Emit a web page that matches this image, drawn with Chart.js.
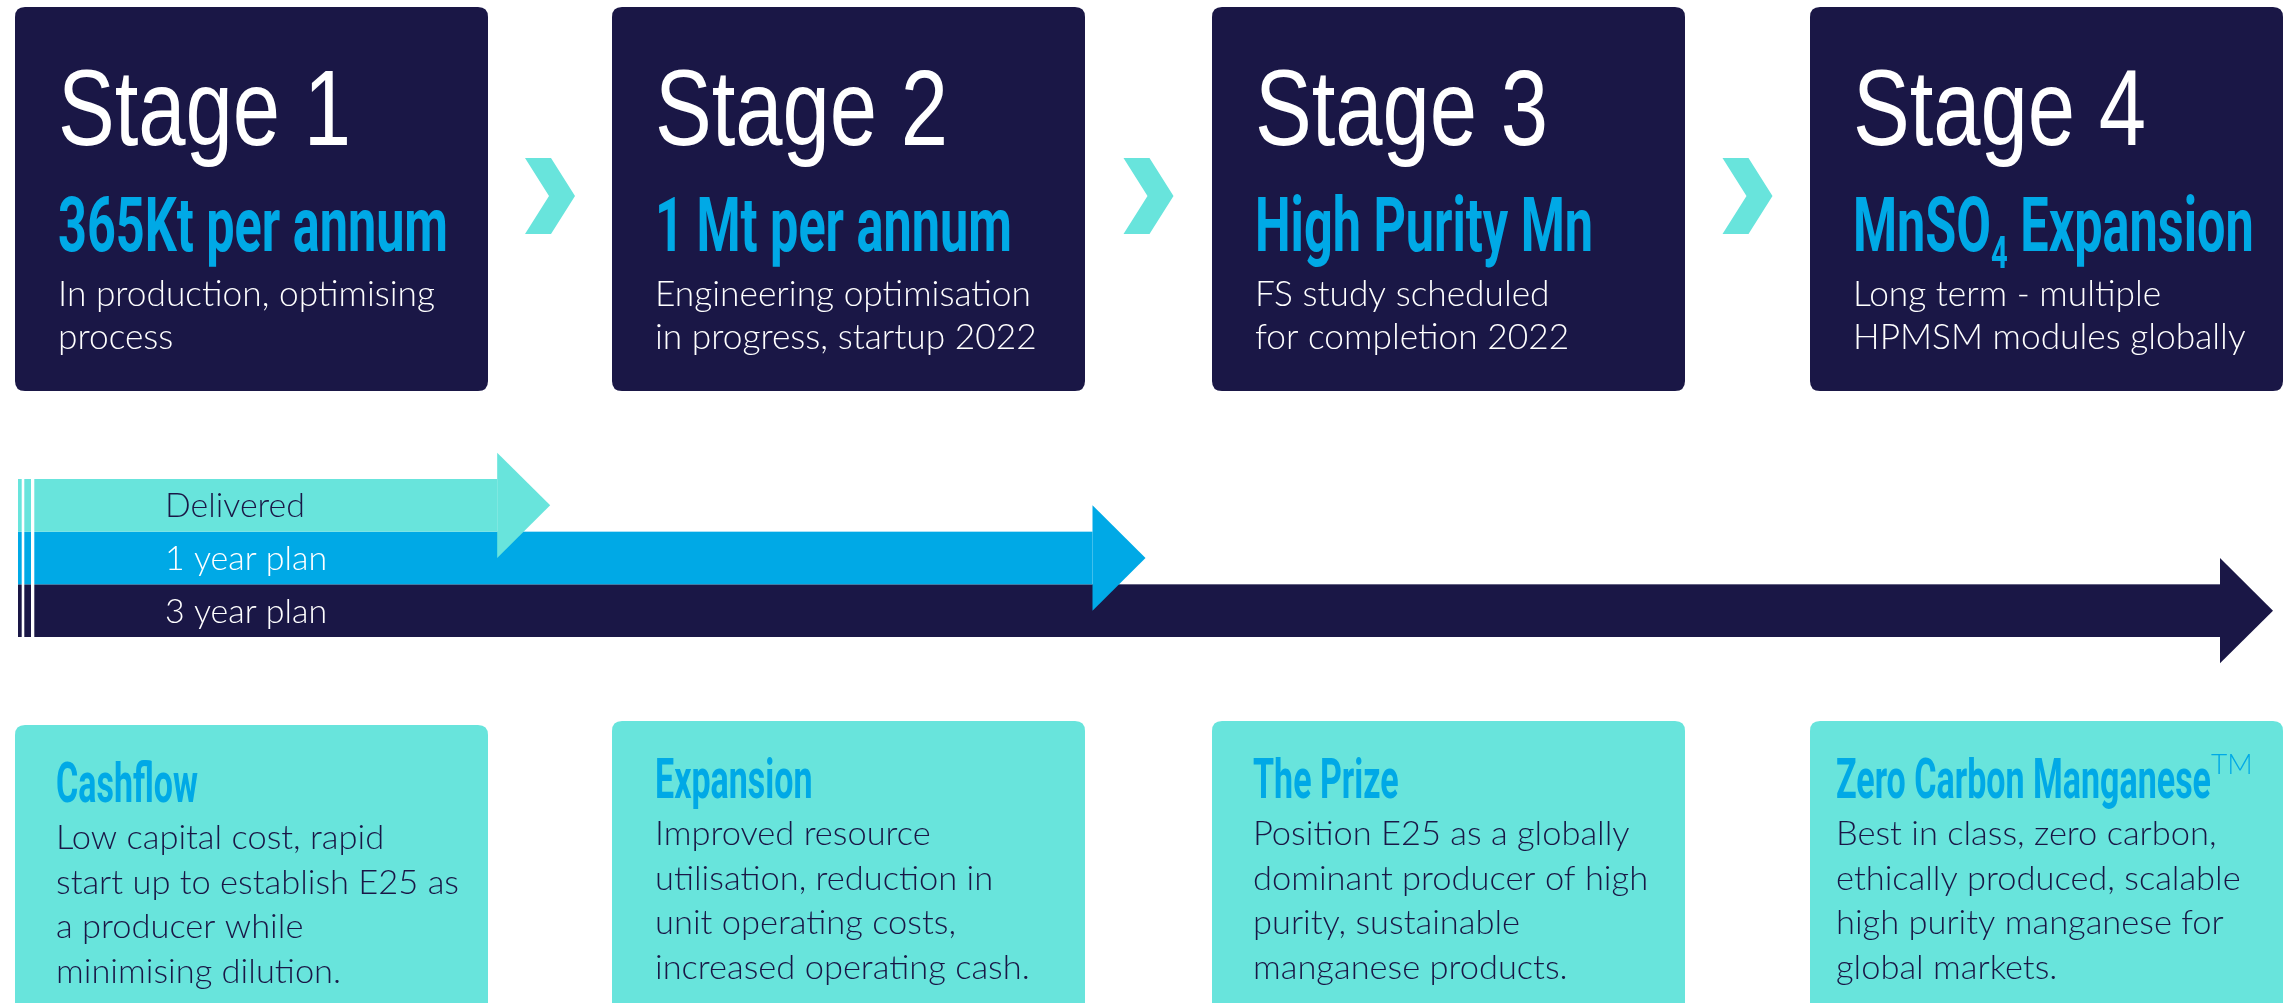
<!DOCTYPE html>
<html>
<head>
<meta charset="utf-8">
<script src="https://cdn.jsdelivr.net/npm/chart.js@4.4.0/dist/chart.umd.min.js"></script>
<style>
  html, body { margin: 0; padding: 0; background: #fff; overflow: hidden; }
  canvas { display: block; }
</style>
</head>
<body>
<canvas id="roadmap" width="2292" height="1003"></canvas>
<script>
// timeline arrows, value = where the arrow tip sits (% of the timeline)
const planLabels = ['Delivered', '1 year plan', '3 year plan'];
const planProgress = [23.6, 50, 100];

const stageTitles = ['Stage 1', 'Stage 2', 'Stage 3', 'Stage 4'];
const stageTargets = ['365Kt per annum', '1 Mt per annum', 'High Purity Mn', 'MnSO_4 Expansion'];
const stageNotes = [
    ['In production, optimising', 'process'],
    ['Engineering optimisation', 'in progress, startup 2022'],
    ['FS study scheduled', 'for completion 2022'],
    ['Long term - multiple', 'HPMSM modules globally']
];

const outcomeTitles = ['Cashflow', 'Expansion', 'The Prize', 'Zero Carbon Manganese^TM'];
const outcomeNotes = [
    ['Low capital cost, rapid', 'start up to establish E25 as', 'a producer while', 'minimising dilution.'],
    ['Improved resource', 'utilisation, reduction in', 'unit operating costs,', 'increased operating cash.'],
    ['Position E25 as a globally', 'dominant producer of high', 'purity, sustainable', 'manganese products.'],
    ['Best in class, zero carbon,', 'ethically produced, scalable', 'high purity manganese for', 'global markets.']
];

const navy = '#1a1746';
const blue = '#00a9e6';
const aqua = '#68e4dc';
const planColors = [aqua, blue, navy];
const planTextColors = [navy, '#ffffff', '#ffffff'];

// layout
const boxLeft = [15, 612, 1212, 1810];
const boxWidth = 473;
const topBoxY = 7, topBoxH = 384;
const lowBoxY = [725, 721, 721, 721];
const lowPad = [41, 43, 41, 26];
const headLen = 53;

const fTitle = '108px "Liberation Sans", Arial, sans-serif';
const fTarget = 'bold 76px Roboto, sans-serif';
const fTargetSub = 'bold 44px Roboto, sans-serif';
const fNote = '300 35px Lato, sans-serif';
const fLabel = '300 33px Lato, sans-serif';
const fHead = 'bold 55px Roboto, sans-serif';
const fBody = '300 34px Lato, sans-serif';
const fTm = '300 28px Lato, sans-serif';

function fitScale(ctx, font, text, width) {
    ctx.font = font;
    return width / ctx.measureText(text).width;
}

function roundBox(ctx, x, y, w, h, r, color) {
    ctx.beginPath();
    ctx.moveTo(x + r, y);
    ctx.lineTo(x + w - r, y);
    ctx.quadraticCurveTo(x + w, y, x + w, y + r);
    ctx.lineTo(x + w, y + h - r);
    ctx.quadraticCurveTo(x + w, y + h, x + w - r, y + h);
    ctx.lineTo(x + r, y + h);
    ctx.quadraticCurveTo(x, y + h, x, y + h - r);
    ctx.lineTo(x, y + r);
    ctx.quadraticCurveTo(x, y, x + r, y);
    ctx.closePath();
    ctx.fillStyle = color;
    ctx.fill();
}

function drawText(ctx, text, x, y, font, color, sx) {
    ctx.save();
    ctx.font = font;
    ctx.fillStyle = color;
    ctx.textBaseline = 'alphabetic';
    ctx.translate(x, y);
    ctx.scale(sx, 1);
    ctx.fillText(text, 0, 0);
    var w = ctx.measureText(text).width * sx;
    ctx.restore();
    return w;
}

// "_x" = subscript, "^xx" = superscript
function drawRich(ctx, text, x, y, font, color, sx, subFont, subDy, subSx) {
    var parts = text.split(/([_^]\S+)/);
    parts.forEach(function (p) {
        if (!p) return;
        if (p[0] === '_' || p[0] === '^') {
            x += drawText(ctx, p.slice(1), x, y + subDy, subFont, color, subSx);
        } else {
            x += drawText(ctx, p, x, y, font, color, sx);
        }
    });
}

function chevron(ctx, cx, cy) {
    var w = 50, h = 76;
    var l = cx - w / 2;
    ctx.beginPath();
    ctx.moveTo(l, cy - h / 2);
    ctx.lineTo(l + w * 0.52, cy - h / 2);
    ctx.lineTo(l + w, cy);
    ctx.lineTo(l + w * 0.52, cy + h / 2);
    ctx.lineTo(l, cy + h / 2);
    ctx.lineTo(l + w * 0.48, cy);
    ctx.closePath();
    ctx.fillStyle = aqua;
    ctx.fill();
}

const stagePlugin = {
    id: 'stages',
    beforeDraw(chart) {
        const ctx = chart.ctx;
        ctx.save();
        ctx.fillStyle = '#ffffff';
        ctx.fillRect(0, 0, chart.width, chart.height);

        var sTitle = fitScale(ctx, fTitle, 'Stage 1', 293);
        var sTarget = fitScale(ctx, fTarget, '365Kt per annum', 390);
        var sNote = fitScale(ctx, fNote, 'In production, optimising', 377);
        var sHead = fitScale(ctx, fHead, 'Cashflow', 142);
        var sBody = fitScale(ctx, fBody, 'start up to establish E25 as', 403);

        boxLeft.forEach(function (bx, i) {
            // stage box
            roundBox(ctx, bx, topBoxY, boxWidth, topBoxH, 10, navy);
            var tx = bx + 43;
            drawText(ctx, stageTitles[i], tx, 145, fTitle, '#ffffff', sTitle);
            drawRich(ctx, stageTargets[i], tx, 251, fTarget, blue, sTarget, fTargetSub, 17, sTarget);
            stageNotes[i].forEach(function (line, j) {
                drawText(ctx, line, tx, 306 + j * 43, fNote, '#ffffff', sNote);
            });

            // outcome box
            roundBox(ctx, bx, lowBoxY[i], boxWidth, 320, 10, aqua);
            var ox = bx + lowPad[i];
            drawRich(ctx, outcomeTitles[i], ox, lowBoxY[i] + 77, fHead, blue, sHead, fTm, -24, 1);
            outcomeNotes[i].forEach(function (line, j) {
                drawText(ctx, line, ox, lowBoxY[i] + 124 + j * 44.5, fBody, navy, sBody);
            });

            if (i < boxLeft.length - 1) {
                chevron(ctx, (bx + boxWidth + boxLeft[i + 1]) / 2, 196);
            }
        });
        ctx.restore();
    },
    beforeDatasetsDraw(chart) {
        const ctx = chart.ctx;
        const meta = chart.getDatasetMeta(0);
        var sLabel = fitScale(ctx, fLabel, 'Delivered', 140);
        var top = chart.chartArea.top, bottom = chart.chartArea.bottom;
        ctx.save();
        // longest arrow first so shorter heads sit on top
        for (var i = meta.data.length - 1; i >= 0; i--) {
            var p = meta.data[i].getProps(['x', 'y', 'base', 'height'], true);
            var h = p.height / 2;
            ctx.fillStyle = planColors[i];
            ctx.fillRect(p.base, p.y - h, p.x - headLen - p.base, p.height);
            ctx.beginPath();
            ctx.moveTo(p.x - headLen, p.y - p.height);
            ctx.lineTo(p.x, p.y);
            ctx.lineTo(p.x - headLen, p.y + p.height);
            ctx.closePath();
            ctx.fill();
        }
        // thin white stripes at the start of the timeline
        var left = chart.chartArea.left;
        ctx.fillStyle = '#ffffff';
        ctx.fillRect(left + 3.7, top, 2.6, bottom - top);
        ctx.fillRect(left + 13, top, 3.3, bottom - top);
        meta.data.forEach(function (bar, i) {
            drawText(ctx, planLabels[i], 165, bar.y + 12, fLabel, planTextColors[i], sLabel);
        });
        ctx.restore();
        return false;
    }
};

var ctx = document.querySelector('#roadmap');

new Chart(ctx, {
    type: 'bar',
    data: {
        labels: planLabels,
        datasets: [{
            data: planProgress,
            backgroundColor: planColors,
            barPercentage: 1,
            categoryPercentage: 1
        }]
    },
    options: {
        indexAxis: 'y',
        responsive: false,
        animation: false,
        devicePixelRatio: 1,
        layout: {
            padding: { left: 18, right: 19, top: 479, bottom: 366 }
        },
        scales: {
            x: { min: 0, max: 100, display: false },
            y: { display: false }
        },
        plugins: {
            legend: { display: false },
            tooltip: { enabled: false }
        }
    },
    plugins: [stagePlugin]
});
</script>
</body>
</html>
